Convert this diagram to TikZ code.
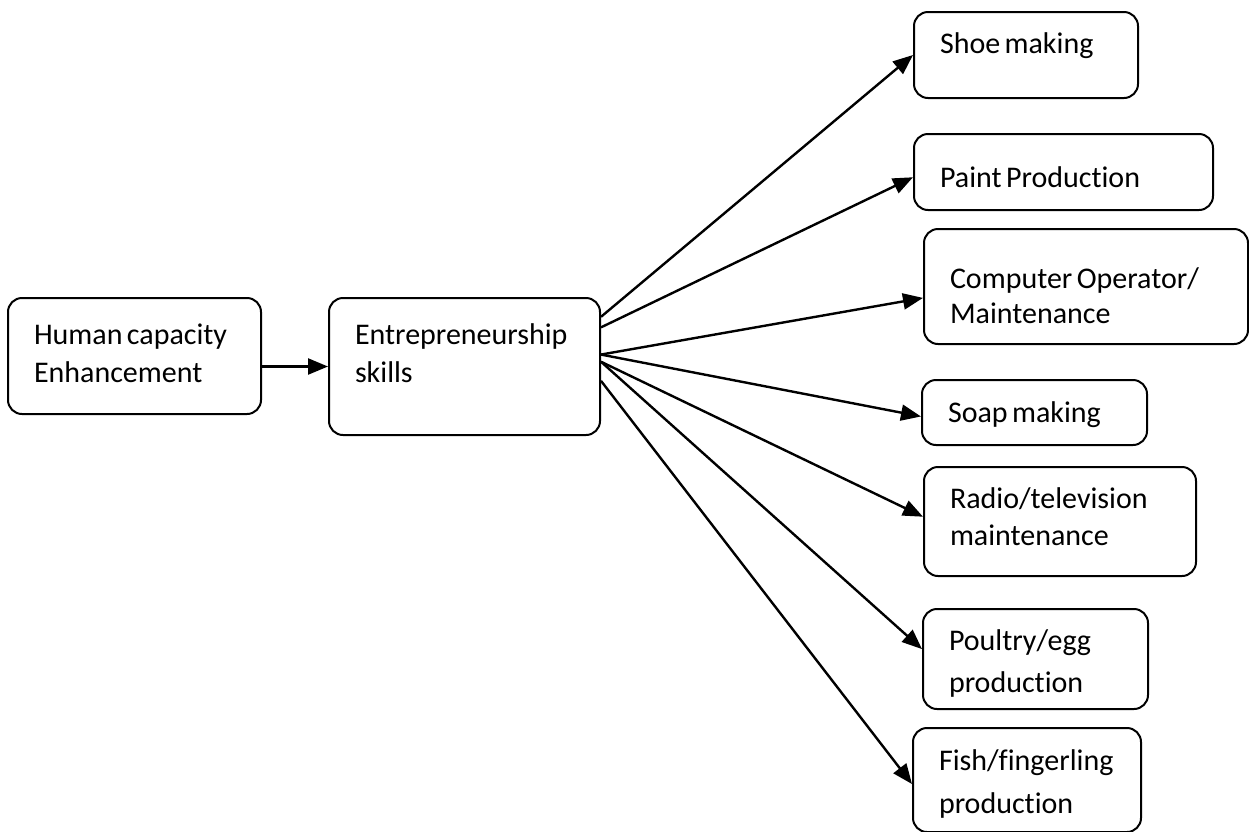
\documentclass[tikz,border=0pt]{standalone}
\usepackage{fontspec}
\setmainfont{Carlito}[Ligatures=NoCommon]
\usetikzlibrary{arrows.meta}

\begin{document}
\begin{tikzpicture}[x=0.5pt, y=-0.5pt,
      box/.style={draw, line width=1pt, rounded corners=7pt, align=left,
                  inner xsep=13pt, inner ysep=0pt,
                  font=\fontsize{15pt}{19pt}\selectfont,
                  execute at begin node={\spaceskip=2.2pt\relax}},
      lskip/.style={font=\fontsize{15pt}{#1}\selectfont},
      arr/.style={-{Triangle[length=10pt, width=8pt]}, line width=1.2pt}]
    \useasboundingbox (0,0) rectangle (1249,831);
    \node[box, text width=100.5pt, minimum height=58pt, text height=0pt, text depth=12pt]
      (human) at (134.5,356) {Human capacity\\Enhancement};
    \node[box, text width=109.5pt, minimum height=68.5pt, text height=0pt, text depth=22.5pt]
      (entre) at (464.5,366.5) {Entrepreneurship\\skills};
    % the trades
    \node[box, text width=86pt, minimum height=43pt, text height=0pt, text depth=2pt]
      (shoe) at (1026,55) {Shoe making};
    \node[box, text width=123.5pt, minimum height=38pt, text height=15pt, text depth=0pt]
      (paint) at (1063.5,172) {Paint Production};
    \node[box, lskip=17.5pt, text width=136pt, minimum height=57.5pt, text height=1.5pt, text depth=0pt]
      (computer) at (1086,286.5) {Computer Operator/\\Maintenance};
    \node[box, text width=86.5pt, minimum height=32.5pt, text height=9.5pt, text depth=0pt]
      (soap) at (1034.5,412.5) {Soap making};
    \node[box, lskip=18.5pt, text width=110pt, minimum height=54.5pt, text height=0pt, text depth=13.5pt]
      (radio) at (1060,521.5) {Radio/television\\maintenance};
    \node[box, lskip=21pt, text width=86.5pt, minimum height=50pt, text height=0pt, text depth=9pt]
      (poultry) at (1035.5,659) {Poultry/egg\\production};
    \node[box, lskip=21.5pt, text width=88pt, minimum height=52pt, text height=0pt, text depth=10pt]
      (fish) at (1027,780) {Fish/fingerling\\production};
    \draw[arr] (human.east |- entre.west) -- (entre.west);
    \foreach \a/\t/\b in {20/shoe/180, 16/paint/182, 5/computer/184, 5/soap/182,
                          2/radio/178, 2/poultry/175, 354/fish/182}
      \draw[arr] (entre.\a) -- (\t.\b);
  \end{tikzpicture}
\end{document}
